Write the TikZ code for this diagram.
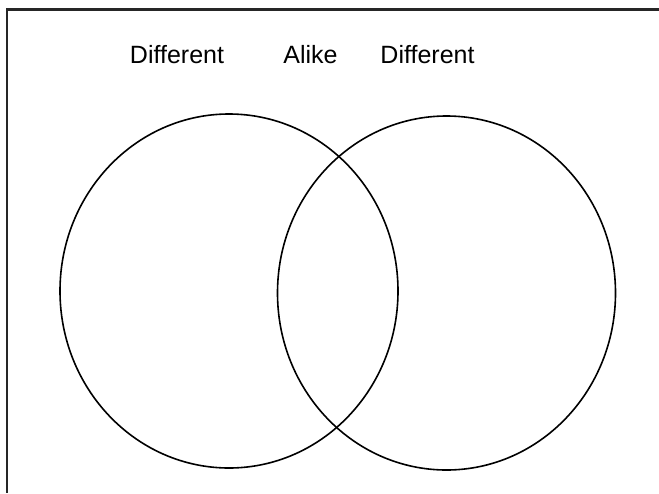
\documentclass[tikz,border=0pt]{standalone}
\usepackage{fontspec}
\setmainfont{Liberation Sans}
\usetikzlibrary{positioning, shapes.geometric}
\tikzset{
  setring/.style={ellipse, draw=black, line width=1.6pt, inner sep=0pt,
                  minimum width=338pt, minimum height=354pt},
  head/.style={anchor=base, inner sep=0pt, font=\fontsize{25}{29}\selectfont},
  frameline/.style={draw=black!85, line width=2.2pt},
}
\begin{document}
\begin{tikzpicture}[x=1pt, y=-1pt]
    \useasboundingbox (0,0) rectangle (659,493);
    % frame (only top and left edges are in view)
    \draw[frameline] (659,9.5) -- (7,9.5) -- (7,493);
    % the two sets
    \node[setring] (leftset) at (229,291) {};
    \node[setring] (rightset) at (446.5,293) {};
    % headings
    \node[head] (diffleft) at (177,63) {Different};
    \node[head] (alike) at (310.5,63) {Alike};
    \node[head] (diffright) at (427.5,63) {Different};
\end{tikzpicture}
\end{document}
